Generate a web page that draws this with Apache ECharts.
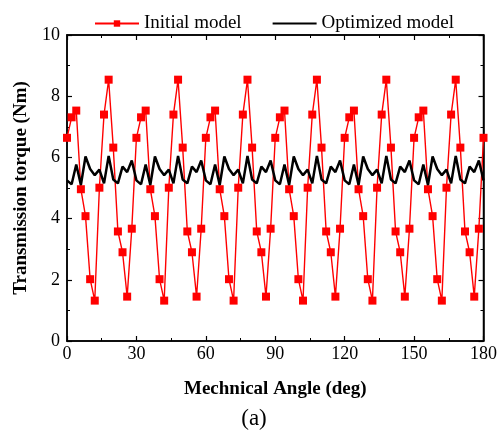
<!DOCTYPE html>
<html>
<head>
<meta charset="utf-8">
<script src="https://cdn.jsdelivr.net/npm/echarts@6/dist/echarts.min.js"></script>
<style>
  html, body { margin: 0; padding: 0; background: #fff; }
  #chart { width: 500px; height: 436px; }
</style>
</head>
<body>
<div id="chart"></div>
<script>
// mechanical angle, deg
const angles = [
  0, 2, 4, 6, 8, 10, 12, 14, 16, 18, 20, 22, 24, 26, 28,
  30, 32, 34, 36, 38, 40, 42, 44, 46, 48, 50, 52, 54, 56, 58,
  60, 62, 64, 66, 68, 70, 72, 74, 76, 78, 80, 82, 84, 86, 88,
  90, 92, 94, 96, 98, 100, 102, 104, 106, 108, 110, 112, 114, 116, 118,
  120, 122, 124, 126, 128, 130, 132, 134, 136, 138, 140, 142, 144, 146, 148,
  150, 152, 154, 156, 158, 160, 162, 164, 166, 168, 170, 172, 174, 176, 178,
  180
];

// transmission torque, Nm
const initialModel = [
  6.64, 7.31, 7.53, 4.96, 4.08, 2.02, 1.32, 5.01, 7.40, 8.54, 6.32, 3.58, 2.90, 1.45, 3.67,
  6.64, 7.31, 7.53, 4.96, 4.08, 2.02, 1.32, 5.01, 7.40, 8.54, 6.32, 3.58, 2.90, 1.45, 3.67,
  6.64, 7.31, 7.53, 4.96, 4.08, 2.02, 1.32, 5.01, 7.40, 8.54, 6.32, 3.58, 2.90, 1.45, 3.67,
  6.64, 7.31, 7.53, 4.96, 4.08, 2.02, 1.32, 5.01, 7.40, 8.54, 6.32, 3.58, 2.90, 1.45, 3.67,
  6.64, 7.31, 7.53, 4.96, 4.08, 2.02, 1.32, 5.01, 7.40, 8.54, 6.32, 3.58, 2.90, 1.45, 3.67,
  6.64, 7.31, 7.53, 4.96, 4.08, 2.02, 1.32, 5.01, 7.40, 8.54, 6.32, 3.58, 2.90, 1.45, 3.67,
  6.64
];

const optimizedModel = [
  5.25, 5.12, 5.77, 5.10, 6.03, 5.62, 5.42, 5.60, 5.15, 6.05, 5.28, 5.15, 5.70, 5.52, 5.90,
  5.25, 5.12, 5.77, 5.10, 6.03, 5.62, 5.42, 5.60, 5.15, 6.05, 5.28, 5.15, 5.70, 5.52, 5.90,
  5.25, 5.12, 5.77, 5.10, 6.03, 5.62, 5.42, 5.60, 5.15, 6.05, 5.28, 5.15, 5.70, 5.52, 5.90,
  5.25, 5.12, 5.77, 5.10, 6.03, 5.62, 5.42, 5.60, 5.15, 6.05, 5.28, 5.15, 5.70, 5.52, 5.90,
  5.25, 5.12, 5.77, 5.10, 6.03, 5.62, 5.42, 5.60, 5.15, 6.05, 5.28, 5.15, 5.70, 5.52, 5.90,
  5.25, 5.12, 5.77, 5.10, 6.03, 5.62, 5.42, 5.60, 5.15, 6.05, 5.28, 5.15, 5.70, 5.52, 5.90,
  5.25
];

const FONT = '"Liberation Serif", "Times New Roman", serif';

const chart = echarts.init(document.getElementById('chart'));

// fresh objects per axis, ticks pointing into the plot
function tick() {
  return { show: true, inside: true, length: 5, lineStyle: { color: '#000', width: 1.2 } };
}
function minor() {
  return { show: true, splitNumber: 2, length: 3, lineStyle: { color: '#000', width: 1 } };
}
function line() {
  return { show: true, onZero: false, lineStyle: { color: '#000', width: 1.5 } };
}

chart.setOption({
  animation: false,
  graphic: [{
    type: 'text',
    x: 254,
    y: 419,
    style: {
      text: '(a)',
      align: 'center',
      verticalAlign: 'middle',
      font: '23px ' + FONT,
      fill: '#000'
    }
  }],
  legend: {
    data: [
      { name: 'Initial model' },
      { name: 'Optimized model', itemStyle: { opacity: 0 } }
    ],
    left: 89,
    top: 9,
    itemWidth: 44,
    itemHeight: 8,
    itemGap: 30,
    textStyle: { fontFamily: FONT, fontSize: 19, color: '#000' }
  },
  grid: {
    left: 67, right: 15, top: 35, bottom: 95,
    show: true, borderColor: '#000', borderWidth: 1.5, backgroundColor: 'transparent'
  },
  xAxis: [{
    type: 'value',
    gridIndex: 0,
    position: 'bottom',
    min: 0, max: 180, interval: 30,
    axisLine: line(),
    axisTick: tick(),
    minorTick: minor(),
    splitLine: { show: false },
    axisLabel: { fontFamily: FONT, fontSize: 18, color: '#000', margin: 4 },
    name: 'Mechnical Angle (deg)',
    nameLocation: 'middle',
    nameGap: 39,
    nameTextStyle: { fontFamily: FONT, fontSize: 19, fontWeight: 'bold', color: '#000' }
  }, {
    type: 'value',
    gridIndex: 0,
    position: 'top',
    min: 0, max: 180, interval: 30,
    axisLine: line(),
    axisTick: tick(),
    minorTick: minor(),
    splitLine: { show: false },
    axisLabel: { show: false }
  }],
  yAxis: [{
    type: 'value',
    gridIndex: 0,
    position: 'left',
    min: 0, max: 10, interval: 2,
    axisLine: line(),
    axisTick: tick(),
    minorTick: minor(),
    splitLine: { show: false },
    axisLabel: { fontFamily: FONT, fontSize: 18, color: '#000', margin: 7 },
    name: 'Transmission torque (Nm)',
    nameLocation: 'middle',
    nameGap: 36,
    nameTextStyle: { fontFamily: FONT, fontSize: 19, fontWeight: 'bold', color: '#000' }
  }, {
    type: 'value',
    gridIndex: 0,
    position: 'right',
    min: 0, max: 10, interval: 2,
    axisLine: line(),
    axisTick: tick(),
    minorTick: minor(),
    splitLine: { show: false },
    axisLabel: { show: false }
  }],
  series: [{
    name: 'Initial model',
    type: 'line',
    data: angles.map((a, i) => [a, initialModel[i]]),
    symbol: 'rect',
    symbolSize: 8,
    showSymbol: true,
    color: '#ff0000',
    lineStyle: { color: '#ff0000', width: 1.4 },
    itemStyle: { color: '#ff0000' },
    z: 2
  }, {
    name: 'Optimized model',
    type: 'line',
    data: angles.map((a, i) => [a, optimizedModel[i]]),
    symbol: 'circle',
    showSymbol: false,
    color: '#000',
    itemStyle: { color: '#000' },
    lineStyle: { color: '#000', width: 2.5 },
    z: 3
  }]
});
</script>
</body>
</html>
